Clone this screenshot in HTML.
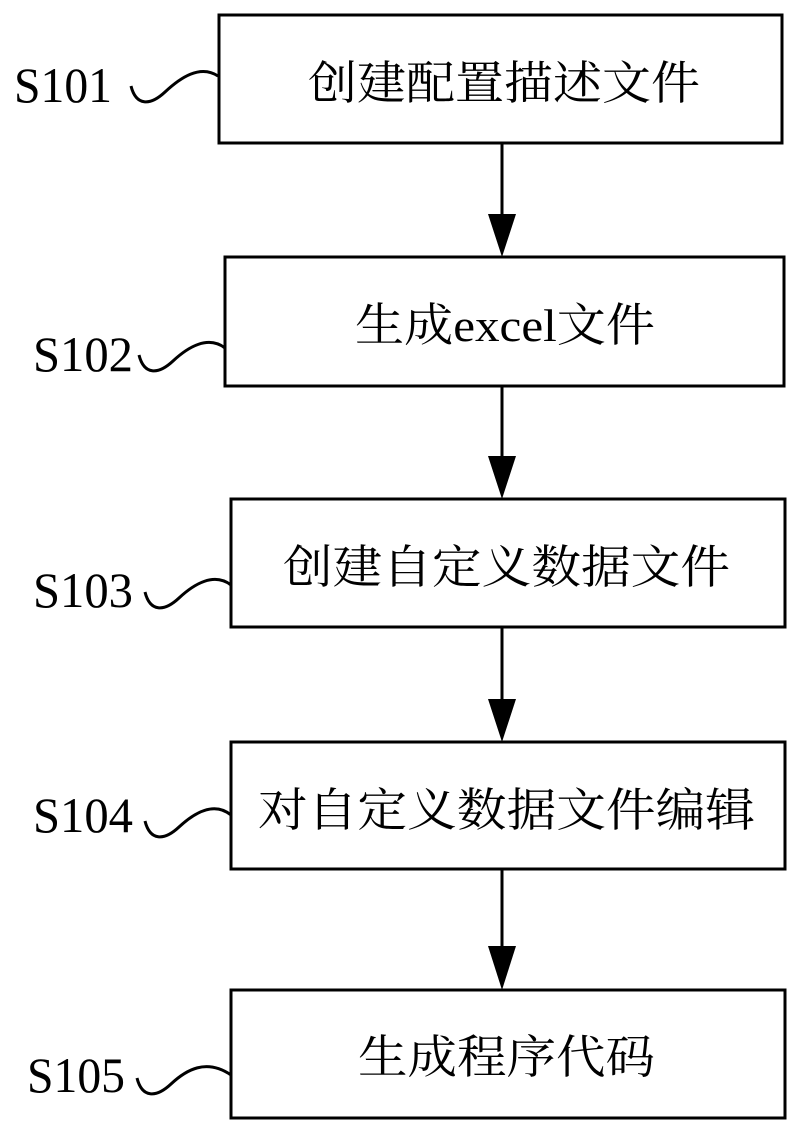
<!DOCTYPE html>
<html><head><meta charset="utf-8"><style>
html,body{margin:0;padding:0;background:#fff;}
svg{display:block;}
.c{font-family:"Liberation Serif","Noto Serif CJK SC",serif;font-size:46px;fill:#000;}
.s{font-family:"Liberation Serif",serif;font-size:50px;fill:#000;}
</style></head><body>
<svg width="808" height="1134" viewBox="0 0 808 1134" xmlns="http://www.w3.org/2000/svg">
<g fill="none" stroke="#000" stroke-width="3">
<rect x="219" y="15" width="563" height="128"/>
<rect x="225" y="257" width="559" height="129"/>
<rect x="231" y="499" width="554" height="128"/>
<rect x="231" y="742" width="554" height="127"/>
<rect x="231" y="990" width="554" height="128"/>
<line x1="502" y1="143" x2="502" y2="220"/>
<line x1="502" y1="386" x2="502" y2="462"/>
<line x1="502" y1="627" x2="502" y2="705"/>
<line x1="502" y1="869" x2="502" y2="950"/>
<path d="M131,86 C136,106 150,106 165,92 S200,64 218,76"/>
<path d="M139,355 C144,375 158,375 173,361 S208,335 225,348"/>
<path d="M145,592 C150,612 164,612 179,598 S214,572 231,585"/>
<path d="M145,821 C150,841 164,841 179,827 S214,801 231,815"/>
<path d="M137,1078 C142,1098 156,1098 171,1084 S206,1058 231,1075"/>
</g>
<g fill="#000">
<polygon points="488,214 516,214 502,257"/>
<polygon points="488,456 516,456 502,499"/>
<polygon points="488,699 516,699 502,742"/>
<polygon points="488,946 516,946 502,990"/>
</g>
<text class="s" x="14" y="102" textLength="98" lengthAdjust="spacingAndGlyphs">S101</text>
<text class="s" x="33" y="371" textLength="100" lengthAdjust="spacingAndGlyphs">S102</text>
<text class="s" x="33" y="607" textLength="100" lengthAdjust="spacingAndGlyphs">S103</text>
<text class="s" x="33" y="832" textLength="100" lengthAdjust="spacingAndGlyphs">S104</text>
<text class="s" x="27" y="1092" textLength="98" lengthAdjust="spacingAndGlyphs">S105</text>
<text class="c" x="308" y="99" textLength="392" lengthAdjust="spacingAndGlyphs">创建配置描述文件</text>
<text class="c" x="355" y="341" textLength="300" lengthAdjust="spacingAndGlyphs">生成excel文件</text>
<text class="c" x="283" y="583" textLength="447" lengthAdjust="spacingAndGlyphs">创建自定义数据文件</text>
<text class="c" x="258" y="826" textLength="497" lengthAdjust="spacingAndGlyphs">对自定义数据文件编辑</text>
<text class="c" x="358" y="1073" textLength="297" lengthAdjust="spacingAndGlyphs">生成程序代码</text>
</svg>
</body></html>
